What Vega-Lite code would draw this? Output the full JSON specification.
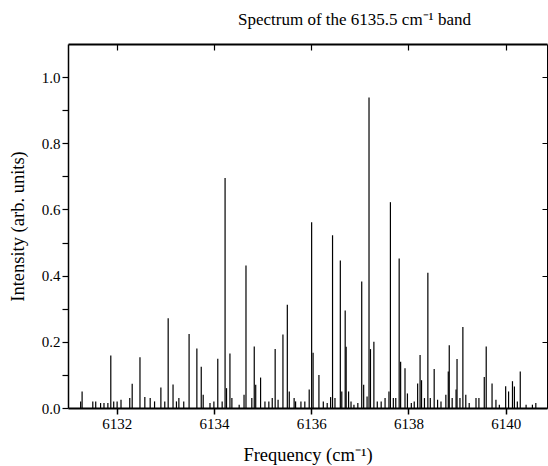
{
  "$schema": "https://vega.github.io/schema/vega-lite/v6.json",
  "width": 479,
  "height": 364,
  "autosize": {"type": "none"},
  "padding": {"left": 68, "top": 44, "right": 1, "bottom": 58},
  "background": "white",
  "title": {"text": "Spectrum of the 6135.5 cm⁻¹ band", "font": "Liberation Serif", "fontSize": 17, "fontWeight": "normal", "color": "black", "anchor": "middle", "dx": 47, "offset": 14},
  "config": {"view": {"stroke": null}, "axis": {"labelFont": "Liberation Serif", "titleFont": "Liberation Serif", "labelColor": "black", "titleColor": "black", "domainColor": "black", "tickColor": "black", "grid": false, "titleFontWeight": "normal"}},
  "data": {"values": [
    {"freq": 6131.26, "intensity": 0.02}, {"freq": 6131.29, "intensity": 0.05}, {"freq": 6131.51, "intensity": 0.02}, {"freq": 6131.57, "intensity": 0.02},
    {"freq": 6131.67, "intensity": 0.015}, {"freq": 6131.74, "intensity": 0.015}, {"freq": 6131.82, "intensity": 0.015}, {"freq": 6131.88, "intensity": 0.159},
    {"freq": 6131.94, "intensity": 0.02}, {"freq": 6132.01, "intensity": 0.02}, {"freq": 6132.09, "intensity": 0.025}, {"freq": 6132.27, "intensity": 0.03},
    {"freq": 6132.32, "intensity": 0.073}, {"freq": 6132.48, "intensity": 0.153}, {"freq": 6132.58, "intensity": 0.033}, {"freq": 6132.69, "intensity": 0.03},
    {"freq": 6132.78, "intensity": 0.02}, {"freq": 6132.91, "intensity": 0.062}, {"freq": 6132.99, "intensity": 0.02}, {"freq": 6133.06, "intensity": 0.271},
    {"freq": 6133.16, "intensity": 0.071}, {"freq": 6133.23, "intensity": 0.02}, {"freq": 6133.28, "intensity": 0.03}, {"freq": 6133.38, "intensity": 0.02},
    {"freq": 6133.49, "intensity": 0.224}, {"freq": 6133.65, "intensity": 0.18}, {"freq": 6133.74, "intensity": 0.125}, {"freq": 6133.78, "intensity": 0.04},
    {"freq": 6133.92, "intensity": 0.015}, {"freq": 6134.0, "intensity": 0.02}, {"freq": 6134.08, "intensity": 0.149}, {"freq": 6134.17, "intensity": 0.02},
    {"freq": 6134.23, "intensity": 0.695}, {"freq": 6134.26, "intensity": 0.06}, {"freq": 6134.33, "intensity": 0.165}, {"freq": 6134.37, "intensity": 0.03},
    {"freq": 6134.52, "intensity": 0.01}, {"freq": 6134.62, "intensity": 0.04}, {"freq": 6134.66, "intensity": 0.431}, {"freq": 6134.78, "intensity": 0.03},
    {"freq": 6134.83, "intensity": 0.186}, {"freq": 6134.86, "intensity": 0.07}, {"freq": 6134.96, "intensity": 0.092}, {"freq": 6135.05, "intensity": 0.02},
    {"freq": 6135.13, "intensity": 0.02}, {"freq": 6135.2, "intensity": 0.03}, {"freq": 6135.26, "intensity": 0.178}, {"freq": 6135.32, "intensity": 0.025},
    {"freq": 6135.42, "intensity": 0.222}, {"freq": 6135.51, "intensity": 0.312}, {"freq": 6135.55, "intensity": 0.05}, {"freq": 6135.65, "intensity": 0.03},
    {"freq": 6135.68, "intensity": 0.02}, {"freq": 6135.79, "intensity": 0.02}, {"freq": 6135.87, "intensity": 0.02}, {"freq": 6135.96, "intensity": 0.056},
    {"freq": 6136.01, "intensity": 0.561}, {"freq": 6136.04, "intensity": 0.167}, {"freq": 6136.16, "intensity": 0.1}, {"freq": 6136.25, "intensity": 0.02},
    {"freq": 6136.33, "intensity": 0.015}, {"freq": 6136.4, "intensity": 0.033}, {"freq": 6136.44, "intensity": 0.522}, {"freq": 6136.49, "intensity": 0.03},
    {"freq": 6136.6, "intensity": 0.446}, {"freq": 6136.63, "intensity": 0.05}, {"freq": 6136.7, "intensity": 0.295}, {"freq": 6136.72, "intensity": 0.185},
    {"freq": 6136.77, "intensity": 0.05}, {"freq": 6136.82, "intensity": 0.02}, {"freq": 6136.88, "intensity": 0.01}, {"freq": 6136.96, "intensity": 0.015},
    {"freq": 6137.04, "intensity": 0.382}, {"freq": 6137.08, "intensity": 0.07}, {"freq": 6137.15, "intensity": 0.035}, {"freq": 6137.19, "intensity": 0.938},
    {"freq": 6137.22, "intensity": 0.178}, {"freq": 6137.29, "intensity": 0.2}, {"freq": 6137.36, "intensity": 0.02}, {"freq": 6137.44, "intensity": 0.02},
    {"freq": 6137.52, "intensity": 0.03}, {"freq": 6137.6, "intensity": 0.05}, {"freq": 6137.63, "intensity": 0.622}, {"freq": 6137.69, "intensity": 0.03},
    {"freq": 6137.74, "intensity": 0.03}, {"freq": 6137.81, "intensity": 0.452}, {"freq": 6137.84, "intensity": 0.14}, {"freq": 6137.93, "intensity": 0.12},
    {"freq": 6137.98, "intensity": 0.044}, {"freq": 6138.06, "intensity": 0.015}, {"freq": 6138.12, "intensity": 0.02}, {"freq": 6138.19, "intensity": 0.074},
    {"freq": 6138.24, "intensity": 0.16}, {"freq": 6138.27, "intensity": 0.084}, {"freq": 6138.33, "intensity": 0.03}, {"freq": 6138.4, "intensity": 0.409},
    {"freq": 6138.45, "intensity": 0.03}, {"freq": 6138.53, "intensity": 0.118}, {"freq": 6138.6, "intensity": 0.025}, {"freq": 6138.67, "intensity": 0.02},
    {"freq": 6138.77, "intensity": 0.04}, {"freq": 6138.82, "intensity": 0.11}, {"freq": 6138.84, "intensity": 0.19}, {"freq": 6138.9, "intensity": 0.03},
    {"freq": 6138.98, "intensity": 0.056}, {"freq": 6139.0, "intensity": 0.148}, {"freq": 6139.06, "intensity": 0.03}, {"freq": 6139.12, "intensity": 0.245},
    {"freq": 6139.18, "intensity": 0.04}, {"freq": 6139.25, "intensity": 0.015}, {"freq": 6139.39, "intensity": 0.03}, {"freq": 6139.45, "intensity": 0.03},
    {"freq": 6139.56, "intensity": 0.094}, {"freq": 6139.6, "intensity": 0.186}, {"freq": 6139.72, "intensity": 0.074}, {"freq": 6139.8, "intensity": 0.025},
    {"freq": 6139.87, "intensity": 0.01}, {"freq": 6140.0, "intensity": 0.066}, {"freq": 6140.06, "intensity": 0.05}, {"freq": 6140.14, "intensity": 0.081},
    {"freq": 6140.18, "intensity": 0.065}, {"freq": 6140.24, "intensity": 0.02}, {"freq": 6140.3, "intensity": 0.11}, {"freq": 6140.42, "intensity": 0.01},
    {"freq": 6140.55, "intensity": 0.01}, {"freq": 6140.62, "intensity": 0.015}
  ]},
  "layer": [
    {
      "mark": {"type": "rule", "color": "black", "strokeWidth": 1.2},
      "encoding": {
        "x": {"field": "freq", "type": "quantitative", "scale": {"domain": [6131.0, 6140.85], "nice": false, "zero": false},
              "axis": {"orient": "bottom", "values": [6132, 6134, 6136, 6138, 6140], "format": "d", "title": "Frequency (cm⁻¹)", "labelFontSize": 15, "titleFontSize": 18.5, "tickSize": 6, "labelPadding": 2, "titlePadding": 14, "domainWidth": 2, "tickWidth": 1.5}},
        "y": {"field": "intensity", "type": "quantitative", "scale": {"domain": [0, 1.1], "nice": false},
              "axis": {"orient": "left", "values": [0, 0.1, 0.2, 0.3, 0.4, 0.5, 0.6, 0.7, 0.8, 0.9, 1.0], "labelExpr": "round(datum.value*10) % 2 == 0 ? format(datum.value, '.1f') : ''", "title": "Intensity (arb. units)", "labelFontSize": 15, "titleFontSize": 18.5, "tickSize": 6, "labelPadding": 2, "titlePadding": 14, "domainWidth": 1.5, "tickWidth": 1.2}},
        "y2": {"datum": 0}
      }
    },
    {
      "mark": {"type": "rule", "opacity": 0},
      "encoding": {
        "x": {"field": "freq", "type": "quantitative", "axis": {"orient": "top", "values": [6132, 6134, 6136, 6138, 6140], "labels": false, "title": null, "tickSize": -6, "domainWidth": 2, "tickWidth": 1.2}},
        "y": {"field": "intensity", "type": "quantitative", "axis": {"orient": "right", "values": [0, 0.2, 0.4, 0.6, 0.8, 1.0], "labels": false, "title": null, "tickSize": -5, "domainWidth": 1, "tickWidth": 1}}
      }
    }
  ]
}
